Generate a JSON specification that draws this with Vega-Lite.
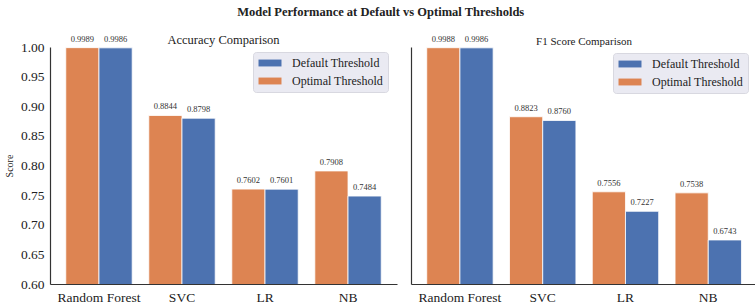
{
  "$schema": "https://vega.github.io/schema/vega-lite/v6.json",
  "padding": {"left": 4, "top": 5, "right": 0, "bottom": 0},
  "background": "white",
  "title": {"text": "Model Performance at Default vs Optimal Thresholds", "fontSize": 12.5, "fontWeight": "bold", "color": "#222", "anchor": "middle", "offset": 16},
  "datasets": {
    "scores": [
      {"metric": "Accuracy", "model": "Random Forest", "threshold": "Optimal Threshold", "value": 0.9989},
      {"metric": "Accuracy", "model": "Random Forest", "threshold": "Default Threshold", "value": 0.9986},
      {"metric": "Accuracy", "model": "SVC", "threshold": "Optimal Threshold", "value": 0.8844},
      {"metric": "Accuracy", "model": "SVC", "threshold": "Default Threshold", "value": 0.8798},
      {"metric": "Accuracy", "model": "LR", "threshold": "Optimal Threshold", "value": 0.7602},
      {"metric": "Accuracy", "model": "LR", "threshold": "Default Threshold", "value": 0.7601},
      {"metric": "Accuracy", "model": "NB", "threshold": "Optimal Threshold", "value": 0.7908},
      {"metric": "Accuracy", "model": "NB", "threshold": "Default Threshold", "value": 0.7484},
      {"metric": "F1", "model": "Random Forest", "threshold": "Optimal Threshold", "value": 0.9988},
      {"metric": "F1", "model": "Random Forest", "threshold": "Default Threshold", "value": 0.9986},
      {"metric": "F1", "model": "SVC", "threshold": "Optimal Threshold", "value": 0.8823},
      {"metric": "F1", "model": "SVC", "threshold": "Default Threshold", "value": 0.8760},
      {"metric": "F1", "model": "LR", "threshold": "Optimal Threshold", "value": 0.7556},
      {"metric": "F1", "model": "LR", "threshold": "Default Threshold", "value": 0.7227},
      {"metric": "F1", "model": "NB", "threshold": "Optimal Threshold", "value": 0.7538},
      {"metric": "F1", "model": "NB", "threshold": "Default Threshold", "value": 0.6743}
    ]
  },
  "spacing": 14,
  "resolve": {"legend": {"color": "independent"}, "scale": {"color": "independent"}},
  "hconcat": [
    {
      "width": 347,
      "height": 237,
      "title": {"text": "Accuracy Comparison", "fontSize": 12.5, "fontWeight": "normal", "color": "#222", "anchor": "middle", "offset": -12},
      "data": {"name": "scores"},
      "transform": [{"filter": "datum.metric === 'Accuracy'"}],
      "encoding": {
        "x": {"field": "model", "type": "nominal", "sort": ["Random Forest", "SVC", "LR", "NB"],
              "scale": {"paddingInner": 0.2, "paddingOuter": 0.19},
              "axis": {"title": null, "labelAngle": 0, "ticks": false, "labelPadding": 6, "labelFontSize": 13.5, "labelColor": "#222", "domainColor": "#333", "domainWidth": 1.2}},
        "xOffset": {"field": "threshold", "type": "nominal", "sort": ["Optimal Threshold", "Default Threshold"], "scale": {"paddingInner": 0, "paddingOuter": 0}},
        "y": {"field": "value", "type": "quantitative",
              "scale": {"domain": [0.6, 1.0], "zero": false, "nice": false},
              "axis": {"title": "Score", "titleFontSize": 10, "titleFontWeight": "normal", "titleColor": "#222", "titlePadding": 6, "values": [0.6, 0.65, 0.7, 0.75, 0.8, 0.85, 0.9, 0.95, 1.0], "format": ".2f", "ticks": false, "grid": false, "labelPadding": 6, "labelFontSize": 13.5, "labelColor": "#222", "domainColor": "#333", "domainWidth": 1.2}}
      },
      "layer": [
        {
          "mark": {"type": "bar", "stroke": "white", "strokeWidth": 0.8, "clip": true},
          "encoding": {
            "color": {"field": "threshold", "type": "nominal",
                      "scale": {"domain": ["Default Threshold", "Optimal Threshold"], "range": ["#4c72b0", "#dd8452"]},
                      "legend": {"title": null, "orient": "none", "legendX": 203, "legendY": 5,
                                 "symbolType": "M-2,-0.6H2V0.6H-2Z", "symbolSize": 132, "symbolStrokeWidth": 0, "symbolOffset": 6,
                                 "labelFontSize": 12, "labelColor": "#222", "labelOffset": 16, "rowPadding": 6,
                                 "padding": 5, "fillColor": "#eaeaf2", "strokeColor": "#d8d8e0", "cornerRadius": 3}}
          }
        },
        {
          "mark": {"type": "text", "baseline": "bottom", "dy": -4, "fontSize": 8.5, "fill": "#333"},
          "encoding": {"text": {"field": "value", "type": "quantitative", "format": ".4f"}}
        }
      ]
    },
    {
      "width": 346,
      "height": 237,
      "title": {"text": "F1 Score Comparison", "fontSize": 11, "fontWeight": "normal", "color": "#222", "anchor": "middle", "offset": -12},
      "data": {"name": "scores"},
      "transform": [{"filter": "datum.metric === 'F1'"}],
      "encoding": {
        "x": {"field": "model", "type": "nominal", "sort": ["Random Forest", "SVC", "LR", "NB"],
              "scale": {"paddingInner": 0.2, "paddingOuter": 0.19},
              "axis": {"title": null, "labelAngle": 0, "ticks": false, "labelPadding": 6, "labelFontSize": 13.5, "labelColor": "#222", "domainColor": "#333", "domainWidth": 1.2}},
        "xOffset": {"field": "threshold", "type": "nominal", "sort": ["Optimal Threshold", "Default Threshold"], "scale": {"paddingInner": 0, "paddingOuter": 0}},
        "y": {"field": "value", "type": "quantitative",
              "scale": {"domain": [0.6, 1.0], "zero": false, "nice": false},
              "axis": {"title": null, "labels": false, "ticks": false, "grid": false, "domainColor": "#333", "domainWidth": 1.2}}
      },
      "layer": [
        {
          "mark": {"type": "bar", "stroke": "white", "strokeWidth": 0.8, "clip": true},
          "encoding": {
            "color": {"field": "threshold", "type": "nominal",
                      "scale": {"domain": ["Default Threshold", "Optimal Threshold"], "range": ["#4c72b0", "#dd8452"]},
                      "legend": {"title": null, "orient": "none", "legendX": 202, "legendY": 6,
                                 "symbolType": "M-2,-0.6H2V0.6H-2Z", "symbolSize": 132, "symbolStrokeWidth": 0, "symbolOffset": 6,
                                 "labelFontSize": 12, "labelColor": "#222", "labelOffset": 16, "rowPadding": 6,
                                 "padding": 5, "fillColor": "#eaeaf2", "strokeColor": "#d8d8e0", "cornerRadius": 3}}
          }
        },
        {
          "mark": {"type": "text", "baseline": "bottom", "dy": -4, "fontSize": 8.5, "fill": "#333"},
          "encoding": {"text": {"field": "value", "type": "quantitative", "format": ".4f"}}
        }
      ]
    }
  ],
  "config": {
    "font": "Liberation Serif",
    "view": {"stroke": null},
    "axis": {"labelFont": "Liberation Serif", "titleFont": "Liberation Serif"},
    "legend": {"labelFont": "Liberation Serif"},
    "title": {"font": "Liberation Serif"}
  }
}
